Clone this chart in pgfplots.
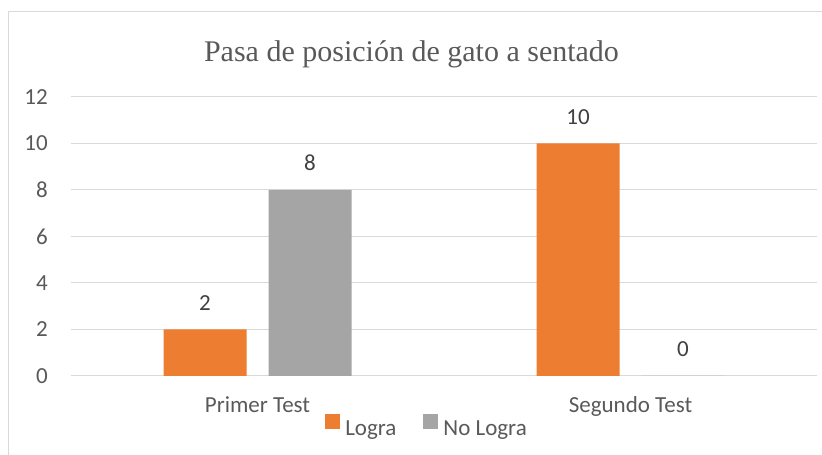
\documentclass[border=0pt]{standalone}
\usepackage{fontspec}
\setmainfont{Carlito}
\newfontfamily\titlefont{Liberation Serif}
\usepackage{pgfplots}
\pgfplotsset{compat=1.18}
\definecolor{lograc}{HTML}{ED7D31}
\definecolor{nologc}{HTML}{A5A5A5}
\definecolor{gridc}{HTML}{D9D9D9}
\definecolor{txtc}{HTML}{595959}
\definecolor{lblc}{HTML}{404040}
\begin{document}
\begin{tikzpicture}[x=1pt,y=1pt]
\useasboundingbox (0,0) rectangle (822,455);
\draw[gridc, line width=1pt] (8.5,0) -- (8.5,443.5) -- (822,443.5);
\node[font=\titlefont\fontsize{30}{36}\selectfont, text=txtc, anchor=base, inner sep=0pt] at (411.5,393) {Pasa de posición de gato a sentado};
\begin{axis}[
  at={(71pt,79pt)}, anchor=south west,
  scale only axis, width=746pt, height=279pt,
  xmin=0, xmax=2, ymin=0, ymax=12,
  ytick={0,2,...,12},
  xtick={0.5,1.5}, xticklabels={Primer Test, Segundo Test},
  ybar=22pt, bar width=83pt,
  axis line style={draw=none},
  major tick length=0pt,
  ymajorgrids, grid style={gridc, line width=1pt},
  clip=false,
  /pgf/number format/assume math mode=true,
  tick label style={font=\fontsize{23}{28}\selectfont, text=txtc, inner sep=0pt},
  yticklabel style={anchor=east, xshift=-23pt},
  xticklabel style={anchor=base, yshift=-37pt},
  nodes near coords,
  every node near coord/.append style={font=\fontsize{23}{28}\selectfont, text=lblc, anchor=base, inner sep=0pt, yshift=19pt},
  legend columns=2,
  legend style={at={(axis description cs:0.4759,-0.1774)}, anchor=center,
    draw=none, fill=none, inner sep=0pt, outer sep=0pt,
    nodes={inner sep=0pt, font=\fontsize{23}{28}\selectfont, text=txtc},
    /tikz/every odd column/.append style={column sep=5pt},
    /tikz/every even column/.append style={column sep=27pt}},
]
\addplot[fill=lograc, draw=none, legend image code/.code={\fill[lograc] (0pt,0pt) rectangle (15pt,15pt);}] coordinates {(0.5,2) (1.5,10)};
\addplot[fill=nologc, draw=none, legend image code/.code={\fill[nologc] (0pt,0pt) rectangle (15pt,15pt);}] coordinates {(0.5,8) (1.5,0)};
\legend{Logra, No Logra}
\end{axis}
\end{tikzpicture}
\end{document}
